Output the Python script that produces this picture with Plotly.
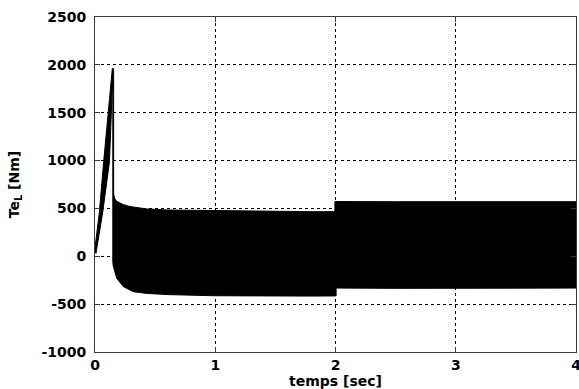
import plotly.graph_objects as go

# Envelope of the torque signal Te_L
# Start-up spike: rising thick line (left/upper edge and right/lower edge)
spike_left_t = [0.0, 0.036, 0.072, 0.114, 0.140]
spike_left_v = [90, 458, 986, 1585, 1940]
spike_peak_t = [0.144, 0.153]
spike_peak_v = [1962, 1962]
spike_right_t = [0.143, 0.130, 0.120, 0.064, 0.008, 0.0]
spike_right_v = [1750, 1300, 986, 458, 30, 40]

# Oscillating band after start-up: upper envelope
upper_t = [0.155, 0.155, 0.165, 0.18, 0.236, 0.29, 0.36, 0.43, 0.60, 0.98, 1.50, 1.81, 1.995, 1.995, 2.5, 3.0, 3.5, 4.0]
upper_v = [1940, 650, 600, 574, 540, 520, 505, 495, 484, 476, 470, 466, 466, 572, 570, 572, 570, 570]
# Oscillating band: lower envelope
lower_t = [4.0, 3.5, 3.0, 2.5, 2.005, 2.005, 1.81, 1.40, 0.98, 0.60, 0.43, 0.319, 0.236, 0.18, 0.16, 0.150, 0.148, 0.148]
lower_v = [-332, -334, -333, -335, -332, -414, -416, -414, -412, -400, -388, -370, -317, -229, -150, -90, -40, 1800]

x_ticks = [0, 1, 2, 3, 4]
y_ticks = [-1000, -500, 0, 500, 1000, 1500, 2000, 2500]

poly_t = spike_left_t + spike_peak_t + upper_t + lower_t + spike_right_t
poly_v = spike_left_v + spike_peak_v + upper_v + lower_v + spike_right_v

fig = go.Figure()
fig.add_trace(go.Scatter(
    x=poly_t, y=poly_v, mode="lines", fill="toself",
    fillcolor="black", line=dict(color="black", width=1),
    hoverinfo="skip", showlegend=False,
))

font_main = "DejaVu Sans"
axis_common = dict(
    showline=True, linecolor="#3a3a3a", linewidth=1, mirror="allticks",
    ticks="inside", ticklen=5, tickcolor="#3a3a3a",
    showgrid=True, gridcolor="black", gridwidth=1, griddash="3px,3px",
    zeroline=False, automargin=False, ticklabeloverflow="allow",
    tickfont=dict(family=font_main, size=14, color="black", weight="bold"),
)

fig.update_layout(
    width=579, height=389,
    margin=dict(l=95, r=3, t=17, b=37, autoexpand=False),
    paper_bgcolor="white", plot_bgcolor="white",
    xaxis=dict(range=[0, 4], tickvals=x_ticks, ticktext=[str(v) for v in x_ticks],
               title=dict(text="temps [sec]", standoff=0,
                          font=dict(family=font_main, size=14, color="black", weight="bold")),
               **axis_common),
    yaxis=dict(range=[-1000, 2500], tickvals=y_ticks, ticktext=[str(v) for v in y_ticks],
               ticklabelstandoff=5,
               title=dict(text="Te<sub>L</sub> [Nm]", standoff=18,
                          font=dict(family=font_main, size=14, color="black", weight="bold")),
               **axis_common),
)

# remove the default page margin so the 579x389 figure fills the window exactly
fig.write_html("out.html",
               config={"displayModeBar": False},
               post_script="document.body.style.margin='0';document.body.style.overflow='hidden';")
